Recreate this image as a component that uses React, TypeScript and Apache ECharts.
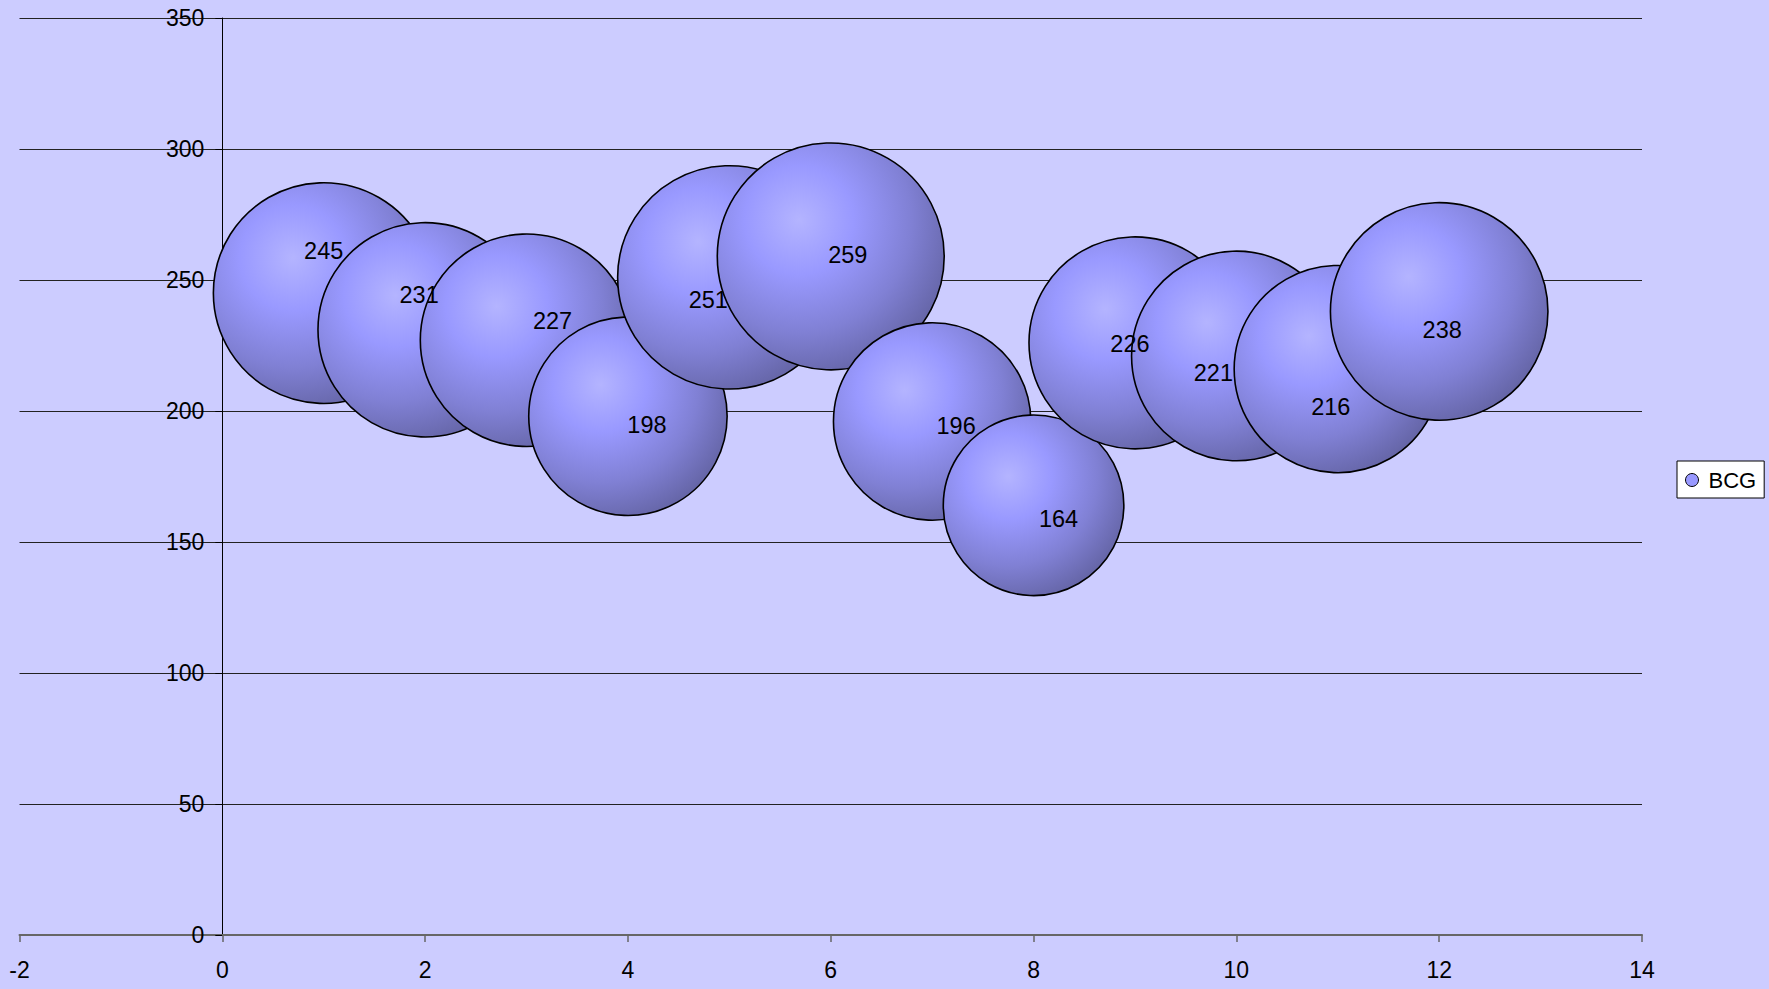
import React, { useEffect, useRef } from "react";
import * as echarts from "echarts";

const seriesName = "BCG";
const xValues = [1, 2, 3, 4, 5, 6, 7, 8, 9, 10, 11, 12];
const yValues = [245, 231, 227, 198, 251, 259, 196, 164, 226, 221, 216, 238];
const bubbleSizes = [245, 231, 227, 198, 251, 259, 196, 164, 226, 221, 216, 238];
const xTicks = { min: -2, max: 14, interval: 2 };
const yTicks = { min: 0, max: 350, interval: 50 };

// label nudges (layout only), in px
const labelOffsets: number[][] = [
  [0, -42], [-6, -35], [26, -19], [19, 9], [-21, 23], [17, -1],
  [24, 5], [25, 14], [-5, 1], [-23, 17], [-7, 38], [3, 19],
];

const FONT = "'Liberation Sans', Arial, sans-serif";
const GRID_LEFT = 19.5;
const GRID_RIGHT = 127;
const PLOT_W = 1769 - GRID_LEFT - GRID_RIGHT;

export default function App() {
  const ref = useRef<HTMLDivElement>(null);
  useEffect(() => {
    if (!ref.current) return;
    const chart = echarts.init(ref.current, undefined, { renderer: "svg" });
    const data = xValues.map((x, i) => ({
      value: [x, yValues[i], bubbleSizes[i]],
      label: { offset: labelOffsets[i] },
    }));
    // y axis sits at x = 0 of the x scale
    const yAxisShift = ((0 - xTicks.min) / (xTicks.max - xTicks.min)) * PLOT_W;
    chart.setOption({
      animation: false,
      backgroundColor: "#CCCCFF",
      textStyle: { fontFamily: FONT },
      grid: {
        left: GRID_LEFT,
        right: GRID_RIGHT,
        top: 18,
        bottom: 54,
        containLabel: false,
        outerBoundsMode: "none",
      },
      legend: {
        show: true,
        left: 1677,
        top: 461,
        orient: "vertical",
        backgroundColor: "#ffffff",
        borderColor: "#000000",
        borderWidth: 1,
        borderRadius: 0,
        padding: [8, 8, 7, 8],
        itemWidth: 13,
        itemHeight: 13,
        icon: "circle",
        selectedMode: false,
        textStyle: { fontSize: 22, color: "#000", fontFamily: FONT, padding: [0, 0, 0, 5] },
        data: [
          {
            name: seriesName,
            itemStyle: { color: "#9999FF", borderColor: "#000", borderWidth: 1 },
          },
        ],
      },
      xAxis: {
        type: "value",
        min: xTicks.min,
        max: xTicks.max,
        interval: xTicks.interval,
        axisLine: { show: true, onZero: true, lineStyle: { color: "#666666", width: 2 } },
        axisTick: { show: true, length: 7, lineStyle: { color: "#666666", width: 1.5 } },
        axisLabel: { fontSize: 23, color: "#000", margin: 23, fontFamily: FONT },
        splitLine: { show: false },
      },
      yAxis: {
        type: "value",
        position: "left",
        offset: -yAxisShift,
        min: yTicks.min,
        max: yTicks.max,
        interval: yTicks.interval,
        axisLine: { show: true, onZero: false, lineStyle: { color: "#000", width: 1 } },
        axisTick: { show: true, length: 7, lineStyle: { color: "#000", width: 1 } },
        axisLabel: { fontSize: 23, color: "#000", margin: 18, fontFamily: FONT },
        splitLine: { show: true, lineStyle: { color: "#222", width: 1 } },
      },
      series: [
        {
          name: seriesName,
          type: "scatter",
          data,
          symbol: "circle",
          symbolSize: (val: number[]) => 14.1 * Math.sqrt(val[2]),
          itemStyle: {
            opacity: 1,
            borderColor: "#000",
            borderWidth: 1.6,
            color: {
              type: "radial",
              x: 0.36,
              y: 0.34,
              r: 0.8,
              colorStops: [
                { offset: 0, color: "#B4B4FF" },
                { offset: 0.3, color: "#9999FF" },
                { offset: 0.62, color: "#8080D4" },
                { offset: 1, color: "#5A5A94" },
              ],
            },
          },
          label: {
            show: true,
            position: "inside",
            fontSize: 23.5,
            color: "#000",
            fontFamily: FONT,
            formatter: (p: any) => String(p.value[1]),
          },
          emphasis: { disabled: true },
        },
      ],
    });
    return () => chart.dispose();
  }, []);
  return (
    <div
      ref={ref}
      style={{ position: "absolute", left: 0, top: 0, width: 1769, height: 989 }}
    />
  );
}
